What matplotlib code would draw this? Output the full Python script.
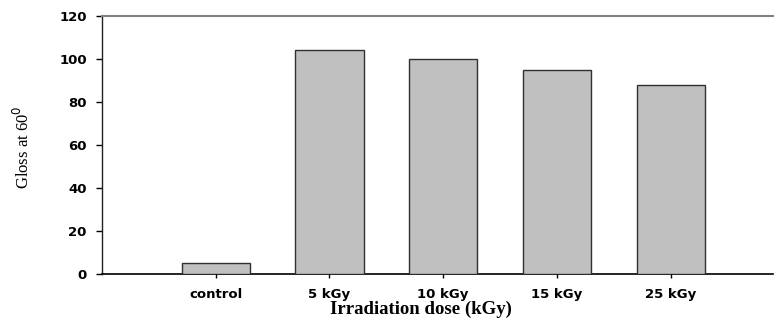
import matplotlib
matplotlib.use("Agg")
import matplotlib.pyplot as plt

categories = ["control", "5 kGy", "10 kGy", "15 kGy", "25 kGy"]
gloss = [5, 104, 100, 95, 88]
yticks = [0, 20, 40, 60, 80, 100, 120]

fig = plt.figure(figsize=(7.74, 3.2), dpi=100)
ax = fig.add_axes([102/774, 1-274/320, 671/774, 258/320])

x = list(range(1, len(categories) + 1))
ax.bar(x, gloss, width=0.6, color="#c0c0c0", edgecolor="#303030", linewidth=1.0, zorder=3)

ax.set_xlim(0, 5.9)
ax.set_ylim(0, 120)
ax.set_yticks(yticks)
ax.set_xticks(x)
ax.set_xticklabels(categories)

for lab in ax.get_xticklabels() + ax.get_yticklabels():
    lab.set_fontfamily("DejaVu Sans")
    lab.set_fontweight("bold")
    lab.set_fontsize(9.5)

ax.tick_params(axis="y", direction="out", length=4, width=1, pad=7)
ax.tick_params(axis="x", direction="out", length=3, width=1, pad=7)

ax.spines["right"].set_visible(False)
ax.spines["top"].set_color("#808080")
ax.spines["top"].set_linewidth(1.5)
ax.spines["left"].set_color("#202020")
ax.spines["bottom"].set_color("black")
ax.spines["left"].set_linewidth(1.0)
ax.spines["bottom"].set_linewidth(1.2)

fig.text(23/774, 1-147/320, r"Gloss at 60$^{0}$", rotation=90, ha="center", va="center",
         fontsize=12, family="Liberation Serif")
fig.text(421/774, 1-309/320, "Irradiation dose (kGy)", ha="center", va="center",
         fontsize=13.5, fontweight="bold", family="Liberation Serif")

fig.savefig("out.png", dpi=100)
